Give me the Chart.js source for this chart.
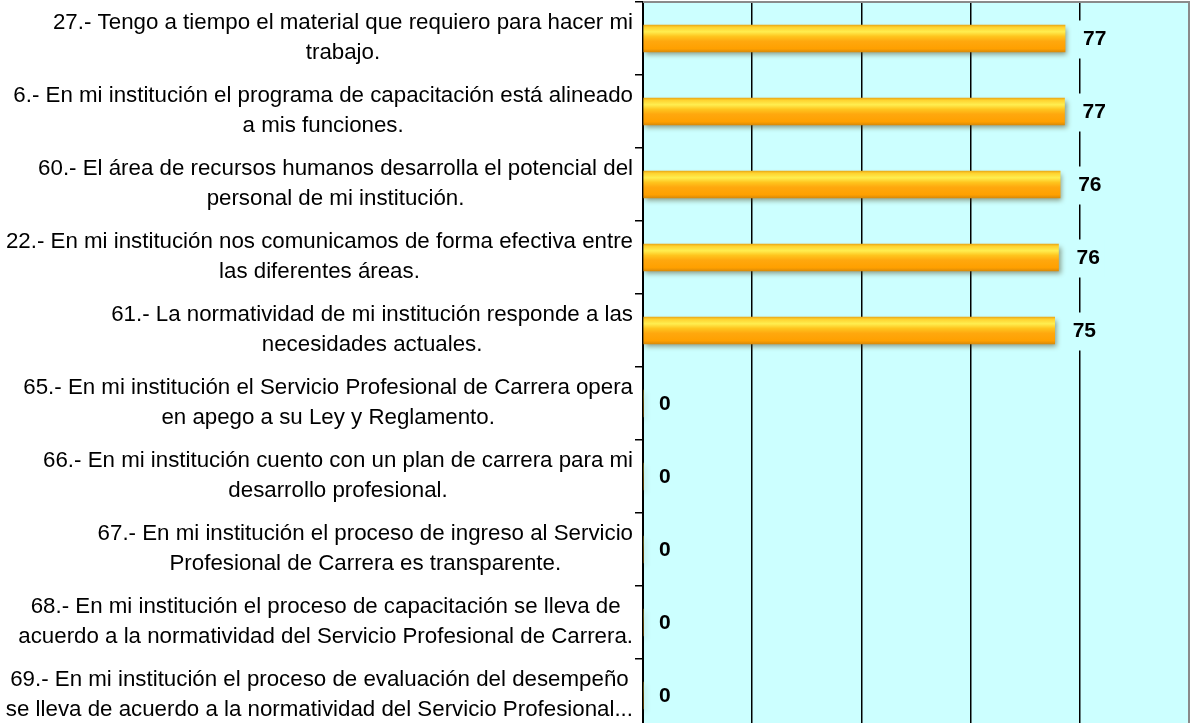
<!DOCTYPE html>
<html>
<head>
<meta charset="utf-8">
<script src="https://cdn.jsdelivr.net/npm/chart.js@4.4.0/dist/chart.umd.min.js"></script>
<style>
  html, body { margin: 0; padding: 0; background: #ffffff; overflow: hidden; }
  #wrap { width: 1192px; height: 735px; position: relative; }
</style>
</head>
<body>
<div id="wrap"><canvas id="c" width="1192" height="735"></canvas></div>
<script>
const categories = [
  ["27.- Tengo a tiempo el material que requiero para hacer mi", "trabajo."],
  ["6.- En mi institución el programa de capacitación está alineado", "a mis funciones."],
  ["60.- El área de recursos humanos desarrolla el potencial del", "personal de mi institución."],
  ["22.- En mi institución nos comunicamos de forma efectiva entre", "las diferentes áreas."],
  ["61.- La normatividad de mi institución responde a las", "necesidades actuales."],
  ["65.- En mi institución el Servicio Profesional de Carrera opera", "en apego a su Ley y Reglamento."],
  ["66.- En mi institución cuento con un plan de carrera para mi", "desarrollo profesional."],
  ["67.- En mi institución el proceso de ingreso al Servicio", "Profesional de Carrera es transparente."],
  ["68.- En mi institución el proceso de capacitación se lleva de", "acuerdo a la normatividad del Servicio Profesional de Carrera."],
  ["69.- En mi institución el proceso de evaluación del desempeño", "se lleva de acuerdo a la normatividad del Servicio Profesional..."]
];
const scores = [77.3, 77.2, 76.4, 76.1, 75.4, 0, 0, 0, 0, 0];
const axisMin = 0;
const axisMax = 100;
const axisStep = 20;

const PLOT_BG = '#CCFFFF';
const LABEL_FONT = '22.3px "Liberation Sans", Arial, sans-serif';
const VALUE_FONT = 'bold 21px "Liberation Sans", Arial, sans-serif';

function barGradient(c) {
  const chart = c.chart;
  const ys = chart.scales && chart.scales.y;
  if (!ys || c.dataIndex === undefined || !chart.chartArea) return '#FFB000';
  const h = 27;
  const top = ys.getPixelForValue(c.dataIndex) - h / 2;
  const g = chart.ctx.createLinearGradient(0, top, 0, top + h);
  g.addColorStop(0, '#E9A818');
  g.addColorStop(0.08, '#FFD22E');
  g.addColorStop(0.25, '#FFEE50');
  g.addColorStop(0.42, '#FFC51E');
  g.addColorStop(0.6, '#FFA80E');
  g.addColorStop(0.88, '#FFA000');
  g.addColorStop(1, '#D98A08');
  return g;
}

const plotBg = {
  id: 'plotBg',
  beforeDraw(chart) {
    const {ctx, chartArea: a} = chart;
    ctx.save();
    ctx.fillStyle = PLOT_BG;
    ctx.fillRect(a.left, a.top, a.right - a.left, a.bottom - a.top);
    ctx.restore();
  },
  beforeDatasetsDraw(chart) {
    const {ctx, chartArea: a} = chart;
    ctx.save();
    ctx.strokeStyle = '#8a8a8a';
    ctx.lineWidth = 2;
    ctx.beginPath();
    ctx.moveTo(a.left, a.top);
    ctx.lineTo(a.right, a.top);
    ctx.lineTo(a.right, a.bottom);
    ctx.stroke();
    ctx.restore();
  },
  beforeDatasetDraw(chart) {
    const ctx = chart.ctx;
    ctx.save();
    ctx.shadowColor = 'rgba(70,60,20,0.5)';
    ctx.shadowBlur = 5;
    ctx.shadowOffsetX = 2;
    ctx.shadowOffsetY = 3;
  },
  afterDatasetDraw(chart) {
    chart.ctx.restore();
  },
  afterDatasetsDraw(chart) {
    const {ctx} = chart;
    const meta = chart.getDatasetMeta(0);
    ctx.save();
    ctx.font = VALUE_FONT;
    ctx.textBaseline = 'middle';
    ctx.textAlign = 'left';
    meta.data.forEach((el, i) => {
      const txt = String(Math.round(scores[i]));
      const x = scores[i] === 0 ? el.x + 16 : el.x + 18;
      const y = el.y + 1;
      const w = ctx.measureText(txt).width;
      ctx.fillStyle = PLOT_BG;
      ctx.fillRect(x - 5, y - 19, w + 10, 38);
      ctx.fillStyle = '#000000';
      ctx.fillText(txt, x, y);
    });
    ctx.restore();
  },
  afterDraw(chart) {
    const {ctx} = chart;
    const ys = chart.scales.y;
    const rightEdge = chart.chartArea.left - 10;
    ctx.save();
    ctx.font = LABEL_FONT;
    ctx.fillStyle = '#000000';
    ctx.textBaseline = 'middle';
    ctx.textAlign = 'center';
    categories.forEach((lines, i) => {
      const cy = ys.getPixelForValue(i) - 1;
      const w = Math.max(...lines.map(l => ctx.measureText(l).width));
      const cx = rightEdge - w / 2;
      const lh = 30;
      lines.forEach((l, k) => {
        ctx.fillText(l, cx, cy + (k - (lines.length - 1) / 2) * lh);
      });
    });
    ctx.restore();
  }
};

new Chart(document.getElementById('c'), {
  type: 'bar',
  data: {
    labels: categories,
    datasets: [{
      data: scores,
      backgroundColor: barGradient,
      borderWidth: 0,
      barThickness: 27
    }]
  },
  options: {
    indexAxis: 'y',
    responsive: false,
    animation: false,
    events: [],
    layout: { padding: { left: 0, right: 3, top: 2, bottom: 3 } },
    plugins: { legend: { display: false }, tooltip: { enabled: false } },
    scales: {
      x: {
        min: axisMin,
        max: axisMax,
        ticks: { display: false, stepSize: axisStep },
        grid: {
          color: ctx => (ctx.tick && ctx.tick.value === axisMax ? '#8a8a8a' : '#000000'),
          lineWidth: ctx => (ctx.tick && ctx.tick.value === axisMax ? 2 : 1.5),
          drawTicks: false,
          tickLength: 0
        },
        border: { display: false }
      },
      y: {
        ticks: { display: false },
        grid: {
          drawOnChartArea: false,
          drawTicks: true,
          tickLength: 8,
          color: '#000000',
          lineWidth: 1.5
        },
        border: { display: true, color: '#000000', width: 2 },
        afterFit(scale) { scale.width = 643; }
      }
    }
  },
  plugins: [plotBg]
});
</script>
</body>
</html>
